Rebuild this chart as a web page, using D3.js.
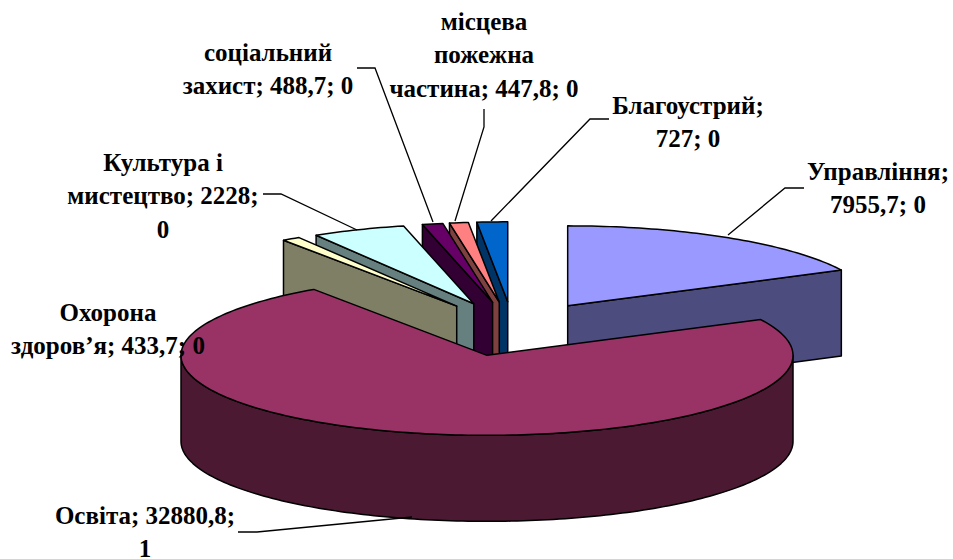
<!DOCTYPE html>
<html>
<head>
<meta charset="utf-8">
<script src="https://cdnjs.cloudflare.com/ajax/libs/d3/7.8.5/d3.min.js"></script>
<style>
    html, body { margin: 0; padding: 0; background: #fff; }
    svg { display: block; }
    text { font-family: "Liberation Serif", serif; font-weight: bold; font-size: 25px; fill: #000; }
</style>
</head>
<body>
<svg id="chart"></svg>
<script>
const categories = ["Управління", "Освіта", "Охорона здоров’я", "Культура і мистецтво", "соціальний захист", "місцева пожежна частина", "Благоустрий"];
const values = [7955.7, 32880.8, 433.7, 2228, 488.7, 447.8, 727];
const topColors = ["#9999ff", "#993366", "#ffffcc", "#ccffff", "#660066", "#ff8080", "#0066cc"];
const sideColors = ["#4c4c7f", "#4c1933", "#7f7f66", "#667f7f", "#330033", "#7f4040", "#003366"];
const drawOrder = [0, 6, 5, 4, 3, 2, 1];

const labelLines = [
    ["Управління;", "7955,7; 0"],
    ["Освіта; 32880,8;", "1"],
    ["Охорона", "здоров’я; 433,7; 0"],
    ["Культура і", "мистецтво; 2228;", "0"],
    ["соціальний", "захист; 488,7; 0"],
    ["місцева", "пожежна", "частина; 447,8; 0"],
    ["Благоустрий;", "727; 0"]
];
const labelPos = [[878, 172], [145, 516], [108, 313], [163, 163], [268, 53], [484, 22], [688, 106]];
const leaders = [
    [[728, 235], [785, 188], [804, 188]],
    [[412, 517], [257, 532], [238, 532]],
    null,
    [[357, 230], [281, 194], [263, 194]],
    [[433, 222], [375, 68], [357, 68]],
    [[455, 221], [484, 127], [484, 109]],
    [[491, 221], [590, 119], [609, 119]]
];

const width = 953, height = 559;
const cx = 513, cy = 329, rx = 306, ry = 80, depth = 86, explode = 0.34;
const lineHeight = 33.3;

const svg = d3.select("#chart").attr("width", width).attr("height", height);

const arcs = d3.pie().sort(null).startAngle(0).endAngle(2 * Math.PI)(values);
const line = d3.line();

// flat ellipse projection, angle 0 is 12 o'clock, clockwise
const project = (a, r, z = 0) => [cx + r * rx * Math.sin(a), cy - r * ry * Math.cos(a) + z];

function samples(a0, a1) {
    const n = Math.max(2, Math.ceil((a1 - a0) / 0.02));
    return d3.range(n + 1).map(i => a0 + (a1 - a0) * i / n);
}

function drawSlice(i) {
    const d = arcs[i];
    const a0 = d.startAngle, a1 = d.endAngle, mid = (a0 + a1) / 2;
    const [ax, ay] = project(mid, explode);
    const off = ([x, y]) => [x + ax - cx, y + ay - cy];
    const rim = (a, z = 0) => off(project(a, 1, z));
    const apex = (z = 0) => [ax, ay + z];
    const g = svg.append("g");

    const face = pts => g.append("path")
        .attr("d", line(pts) + "Z")
        .attr("fill", sideColors[i])
        .attr("stroke", "#000")
        .attr("stroke-width", 1.5)
        .attr("stroke-linejoin", "round");

    if (Math.sin(a0) < -1e-6) face([rim(a0), apex(), apex(depth), rim(a0, depth)]);
    if (Math.sin(a1) > 1e-6) face([rim(a1), apex(), apex(depth), rim(a1, depth)]);

    // outer wall only where it faces the viewer
    const from = Math.max(a0, Math.PI / 2), to = Math.min(a1, 3 * Math.PI / 2);
    if (to > from) {
        const s = samples(from, to);
        face(s.map(a => rim(a)).concat(s.slice().reverse().map(a => rim(a, depth))));
    }

    g.append("path")
        .attr("d", line([apex()].concat(samples(a0, a1).map(a => rim(a)))) + "Z")
        .attr("fill", topColors[i])
        .attr("stroke", "#000")
        .attr("stroke-width", 1.5)
        .attr("stroke-linejoin", "round");
}

drawOrder.forEach(drawSlice);

svg.append("g").selectAll("path")
    .data(leaders.filter(d => d))
    .join("path")
    .attr("d", d => line(d))
    .attr("fill", "none")
    .attr("stroke", "#000")
    .attr("stroke-width", 1.3);

const labels = svg.append("g").selectAll("text")
    .data(labelLines)
    .join("text")
    .attr("text-anchor", "middle")
    .attr("transform", (d, i) => `translate(${labelPos[i][0]}, ${labelPos[i][1] + 8})`);

labels.selectAll("tspan")
    .data(d => d)
    .join("tspan")
    .attr("x", 0)
    .attr("y", (d, i) => i * lineHeight)
    .text(d => d);
</script>
</body>
</html>
